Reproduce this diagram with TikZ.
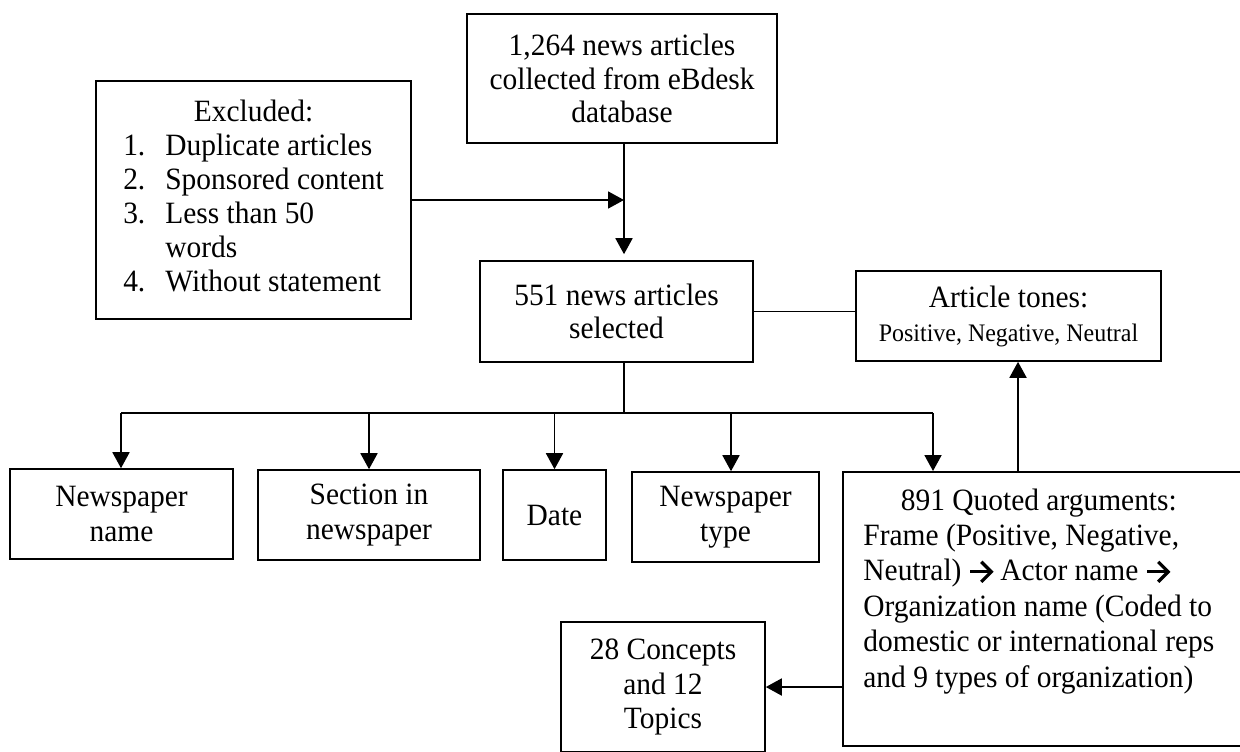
\documentclass[tikz,border=0pt]{standalone}
\usepackage{fontspec}
\setmainfont{Liberation Serif}[FakeStretch=0.95]
\usetikzlibrary{arrows.meta}
\newcommand{\myarrow}{\tikz[baseline=0pt]{\draw[line width=1.6pt, line join=miter, line cap=butt] (0pt,4.6pt) -- (10.2pt,4.6pt); \draw[line width=1.6pt, line join=miter] (5.4pt,9.6pt) -- (10.4pt,4.6pt) -- (5.4pt,-0.4pt);}}
\begin{document}
\begin{tikzpicture}[x=0.5pt,y=-0.5pt,
  box/.style={draw, line width=0.8pt, inner sep=0pt, align=center, font=\fontsize{15.5}{17}\selectfont},
  txt/.style={inner sep=0pt, align=left},
  arr/.style={line width=0.9pt, -{Triangle[length=8pt,width=8.5pt]}},
  ln/.style={line width=0.9pt}]
\useasboundingbox (0,0) rectangle (1240,751);
\clip (0,0) rectangle (1240,751);

% boxes
\node[box, minimum width=155pt, minimum height=64.5pt, font=\fontsize{15.5}{16.6}\selectfont] (T) at (622,78.5)
  {1,264 news articles\\collected from eBdesk\\database};
\node[box, minimum width=157.5pt, minimum height=119pt] (E) at (253.5,200)
  {\begin{tabular}{@{}l@{\hspace{10pt}}l@{}}
   \multicolumn{2}{@{}c@{}}{Excluded:}\\
   1.& Duplicate articles\\
   2.& Sponsored content\\
   3.& Less than 50\\
     & words\\
   4.& Without statement
   \end{tabular}};
\node[box, minimum width=136.5pt, minimum height=50.5pt, font=\fontsize{15.5}{16.4}\selectfont] (S) at (616.5,311.5)
  {551 news articles\\selected};
\node[box, minimum width=152.5pt, minimum height=45pt] (A) at (1008.5,316)
  {Article tones:\\\fontsize{12.6}{13.5}\selectfont Positive, Negative, Neutral};
\node[box, minimum width=111.5pt, minimum height=45pt, font=\fontsize{15.5}{17.5}\selectfont] (N1) at (121.5,514) {Newspaper\\name};
\node[box, minimum width=111pt, minimum height=45pt, font=\fontsize{15.5}{17.5}\selectfont] (N2) at (369,515) {Section in\\newspaper};
\node[box, minimum width=51.5pt, minimum height=45pt] (N3) at (554.5,515) {Date};
\node[box, minimum width=93.5pt, minimum height=45pt, font=\fontsize{15.5}{17.5}\selectfont] (N4) at (725.5,517) {Newspaper\\type};
\node[box, anchor=north west, minimum width=210pt, minimum height=137pt] (Q) at (842,471) {};
\node[txt, anchor=north west, font=\fontsize{15.5}{17.7}\selectfont] (Qt) at (863,485)
  {\begin{tabular}{@{}l@{}}
   \multicolumn{1}{@{}c@{}}{891 Quoted arguments:}\\
   Frame (Positive, Negative,\\
   Neutral) \myarrow{} Actor name \myarrow\\
   Organization name (Coded to\\
   domestic or international reps\\
   and 9 types of organization)
   \end{tabular}};
\node[box, minimum width=102pt, minimum height=65pt, font=\fontsize{15.5}{17.25}\selectfont] (C) at (663,687)
  {28 Concepts\\and 12\\Topics};

% connectors
\coordinate (spine) at (624,413);
\coordinate (hl) at (121,413);
\coordinate (hr) at (933,413);
\coordinate (t4) at (731,413);
\coordinate (u) at (1018,471);

\draw[arr, shorten >=3pt] (T.south -| spine) -- (S.north -| spine);
\draw[arr] (E.east) -- (E.east -| spine);
\draw[ln] (S.east) -- (S.east -| A.west);
\draw[ln] (S.south -| spine) -- (spine);
\draw[ln] (hl) -- (hr);
\draw[arr] (hl) -- (hl |- N1.north);
\draw[arr] (N2.north |- spine) -- (N2.north);
\draw[arr] (N3.north |- spine) -- (N3.north);
\draw[arr] (t4) -- (t4 |- N4.north);
\draw[arr] (hr) -- (hr |- Q.north);
\draw[arr] (u) -- (u |- A.south);
\draw[arr] (Q.west |- C.east) -- (C.east);
\end{tikzpicture}
\end{document}
